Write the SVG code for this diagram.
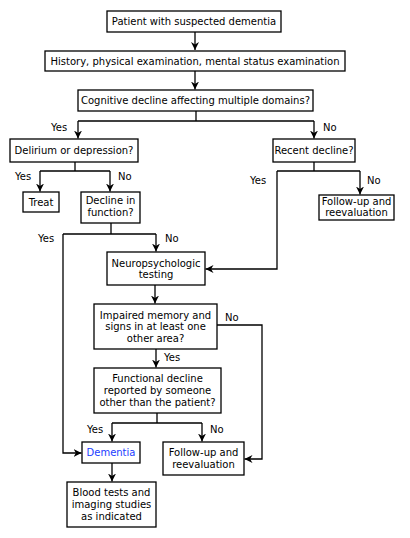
<svg xmlns="http://www.w3.org/2000/svg" width="410" height="538" viewBox="0 0 410 538">
<style>
.box{fill:#fff;stroke:#000;stroke-width:1.3}
.t{font-family:"DejaVu Sans",Verdana,sans-serif;font-size:10px;fill:#000;text-anchor:middle}
.l{font-family:"DejaVu Sans",Verdana,sans-serif;font-size:10px;fill:#000}
.c{fill:none;stroke:#000;stroke-width:1.3}
.blue{fill:#1a3cff}
</style>
<defs>
<marker id="ah" viewBox="0 0 10 10" refX="10" refY="5" markerWidth="8" markerHeight="8" markerUnits="userSpaceOnUse" orient="auto">
<path d="M0,0 L10,5 L0,10 L3,5 z" fill="#000"/>
</marker>
</defs>
<rect width="410" height="538" fill="#fff"/>
<g id="connectors">
<path class="c" d="M195,32 V50" marker-end="url(#ah)"/>
<path class="c" d="M195,71 V89.5" marker-end="url(#ah)"/>
<path class="c" d="M196,111 V121 M78,121 H314"/>
<path class="c" d="M78,121 V138.5" marker-end="url(#ah)"/>
<path class="c" d="M314,121 V138.5" marker-end="url(#ah)"/>
<path class="c" d="M75,162 V171 M40,171 H110"/>
<path class="c" d="M40,171 V191.5" marker-end="url(#ah)"/>
<path class="c" d="M110,171 V191.5" marker-end="url(#ah)"/>
<path class="c" d="M314,162 V171 M277,171 H360"/>
<path class="c" d="M360,171 V194.5" marker-end="url(#ah)"/>
<path class="c" d="M277,171 V269 H205.5" marker-end="url(#ah)"/>
<path class="c" d="M111,223 V234 M63,234 H156"/>
<path class="c" d="M156,234 V251.5" marker-end="url(#ah)"/>
<path class="c" d="M63,234 V453 H81.5" marker-end="url(#ah)"/>
<path class="c" d="M155,285 V303.5" marker-end="url(#ah)"/>
<path class="c" d="M217,325 H262 V459 H244.5" marker-end="url(#ah)"/>
<path class="c" d="M156,349 V367.5" marker-end="url(#ah)"/>
<path class="c" d="M157,413 V423 M112,423 H202"/>
<path class="c" d="M112,423 V441.5" marker-end="url(#ah)"/>
<path class="c" d="M202,423 V441.5" marker-end="url(#ah)"/>
<path class="c" d="M112,463 V481.5" marker-end="url(#ah)"/>
<text class="l" x="51" y="131">Yes</text>
<text class="l" x="323" y="131">No</text>
<text class="l" x="15" y="180">Yes</text>
<text class="l" x="118" y="180">No</text>
<text class="l" x="250" y="183.5">Yes</text>
<text class="l" x="367" y="183.5">No</text>
<text class="l" x="38" y="241.5">Yes</text>
<text class="l" x="165" y="241.5">No</text>
<text class="l" x="225" y="320.5">No</text>
<text class="l" x="164" y="360.5">Yes</text>
<text class="l" x="87" y="432.5">Yes</text>
<text class="l" x="210" y="432.5">No</text>
</g>
<g id="n1"><rect class="box" x="107" y="11" width="174" height="21"/><text class="t" x="194" y="24.5">Patient with suspected dementia</text></g>
<g id="n2"><rect class="box" x="45" y="51" width="300" height="20"/><text class="t" x="195" y="64.5">History, physical examination, mental status examination</text></g>
<g id="n3"><rect class="box" x="78" y="90" width="235" height="21"/><text class="t" x="195.5" y="104">Cognitive decline affecting multiple domains?</text></g>
<g id="n4"><rect class="box" x="10" y="139" width="128" height="23"/><text class="t" x="74" y="154">Delirium or depression?</text></g>
<g id="n5"><rect class="box" x="273" y="139" width="82" height="23"/><text class="t" x="314" y="154">Recent decline?</text></g>
<g id="n6"><rect class="box" x="23" y="192" width="36" height="20"/><text class="t" x="41" y="205.5">Treat</text></g>
<g id="n7"><rect class="box" x="81" y="192" width="59" height="31"/><text class="t" x="110.5" y="204">Decline in</text><text class="t" x="110.5" y="215.5">function?</text></g>
<g id="n8"><rect class="box" x="319" y="195" width="75" height="25"/><text class="t" x="356.5" y="204.5">Follow-up and</text><text class="t" x="356.5" y="215.5">reevaluation</text></g>
<g id="n9"><rect class="box" x="107" y="252" width="98" height="33"/><text class="t" x="156" y="266.5">Neuropsychologic</text><text class="t" x="156" y="278">testing</text></g>
<g id="n10"><rect class="box" x="94" y="304" width="123" height="45"/><text class="t" x="155.5" y="318.5">Impaired memory and</text><text class="t" x="155.5" y="330">signs in at least one</text><text class="t" x="155.5" y="341.5">other area?</text></g>
<g id="n11"><rect class="box" x="94" y="368" width="127" height="45"/><text class="t" x="157.5" y="381.5">Functional decline</text><text class="t" x="157.5" y="394">reported by someone</text><text class="t" x="157.5" y="406">other than the patient?</text></g>
<g id="n12"><rect class="box" x="82" y="442" width="58" height="21"/><text class="t blue" x="111" y="456">Dementia</text></g>
<g id="n13"><rect class="box" x="163" y="442" width="81" height="33"/><text class="t" x="203.5" y="456">Follow-up and</text><text class="t" x="203.5" y="468">reevaluation</text></g>
<g id="n14"><rect class="box" x="67" y="482" width="89" height="45"/><text class="t" x="111.5" y="496">Blood tests and</text><text class="t" x="111.5" y="508">imaging studies</text><text class="t" x="111.5" y="520">as indicated</text></g>
</svg>
